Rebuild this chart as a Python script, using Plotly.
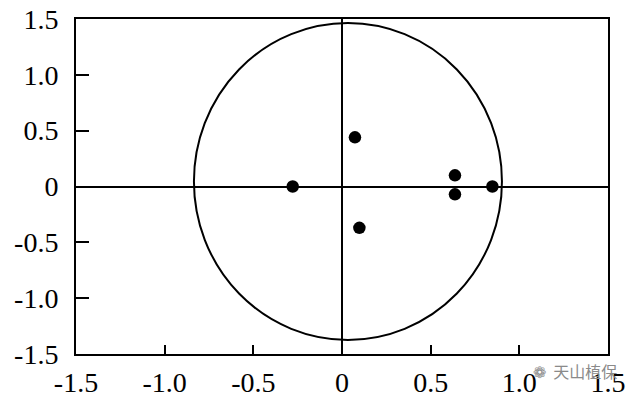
import plotly.graph_objects as go

# Data
pts_x = [0.073, -0.278, 0.637, 0.637, 0.848, 0.098]
pts_y = [0.44, 0.0, 0.10, -0.07, 0.0, -0.37]

# Circle (drawn in data coordinates)
circle_x = [-0.835, 0.902]
circle_y = [-1.374, 1.464]

tick_vals = [-1.5, -1.0, -0.5, 0, 0.5, 1.0, 1.5]
tick_text = ["-1.5", "-1.0", "-0.5", "0", "0.5", "1.0", "1.5"]

fig = go.Figure()
fig.add_trace(go.Scatter(
    x=pts_x, y=pts_y, mode="markers",
    marker=dict(color="black", size=12.5),
    showlegend=False, hoverinfo="skip",
))

fig.add_shape(type="circle", xref="x", yref="y",
              x0=circle_x[0], x1=circle_x[1], y0=circle_y[0], y1=circle_y[1],
              line=dict(color="black", width=2), layer="below")

font = dict(family="Liberation Serif, Times New Roman, serif", size=28, color="black")

fig.update_xaxes(
    range=[-1.5, 1.5], tickvals=tick_vals, ticktext=tick_text,
    ticks="inside", ticklen=9, tickwidth=1.5, tickcolor="black",
    showline=True, linewidth=2, linecolor="black", mirror=True,
    showgrid=False, zeroline=True, zerolinecolor="black", zerolinewidth=2,
    tickfont=font, ticklabelstandoff=2, automargin=False,
)
fig.update_yaxes(
    range=[-1.5, 1.5], tickvals=tick_vals, ticktext=tick_text,
    ticks="inside", ticklen=13, tickwidth=1.5, tickcolor="black",
    showline=True, linewidth=2, linecolor="black", mirror=True,
    showgrid=False, zeroline=True, zerolinecolor="black", zerolinewidth=2,
    tickfont=font, ticklabelstandoff=10, automargin=False,
)

fig.add_annotation(
    xref="paper", yref="paper", x=1.02, y=-0.05, xanchor="right", yanchor="middle",
    text="❁  天山植保", showarrow=False,
    font=dict(family="Noto Sans CJK SC", size=16, color="#8a8a8a"),
)

fig.update_layout(
    width=640, height=399,
    margin=dict(l=76, r=32, t=19, b=45),
    paper_bgcolor="white", plot_bgcolor="white",
)

fig.write_html("out.html")
